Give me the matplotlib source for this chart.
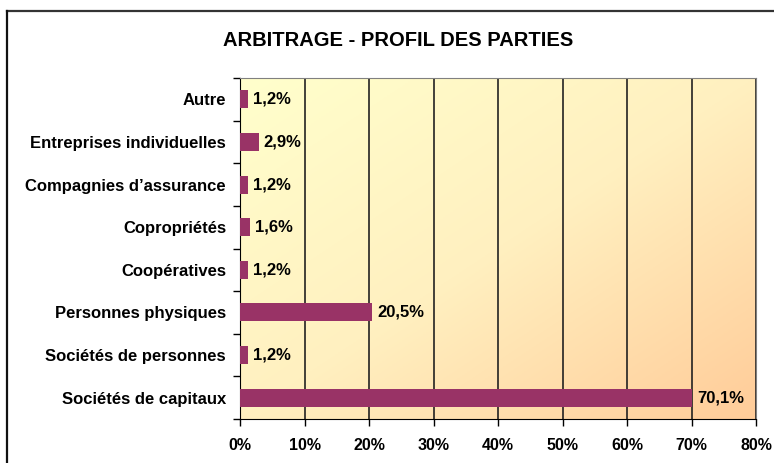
import matplotlib.pyplot as plt
import matplotlib.ticker as mticker
from matplotlib.colors import LinearSegmentedColormap
import numpy as np

plt.rcParams['font.family'] = ['Liberation Sans', 'DejaVu Sans']
plt.rcParams['font.weight'] = 'bold'

# data, bottom to top
categories = ['Sociétés de capitaux', 'Sociétés de personnes', 'Personnes physiques',
              'Coopératives', 'Copropriétés', 'Compagnies d’assurance',
              'Entreprises individuelles', 'Autre']
values = [70.1, 1.2, 20.5, 1.2, 1.6, 1.2, 2.9, 1.2]
x_ticks = [0, 10, 20, 30, 40, 50, 60, 70, 80]

W, H = 774, 463
fig = plt.figure(figsize=(W / 100, H / 100), dpi=100)
ax = fig.add_axes([240 / W, 1 - 419 / H, (756 - 240) / W, (419 - 78) / H])

# frame around the chart (runs off the right and bottom edges)
fig.add_artist(plt.Line2D([7 / W, 1.0], [1 - 10.5 / H, 1 - 10.5 / H], color='#333333', lw=1.6,
                          transform=fig.transFigure))
fig.add_artist(plt.Line2D([7 / W, 7 / W], [1 - 10.5 / H, 0.0], color='#111111', lw=1.6,
                          transform=fig.transFigure))

fig.text(398 / W, 1 - 40 / H, 'ARBITRAGE - PROFIL DES PARTIES', ha='center', va='center',
         fontsize=14.5, fontweight='bold')

# diagonal gradient background, light yellow top-left to peach bottom-right
cmap = LinearSegmentedColormap.from_list('bg', ['#FFFFCC', '#FFF0C0', '#FFCC99'])
gx, gy = np.meshgrid(np.linspace(0, 1, 200), np.linspace(0, 1, 200))
grad = (gx + gy) / 2
ax.imshow(grad, cmap=cmap, extent=[0, 80, -0.5, len(categories) - 0.5], aspect='auto',
          origin='upper', zorder=0)

y = np.arange(len(categories))
ax.barh(y, values, height=0.42, color='#993366', zorder=3)
for yi, v in zip(y, values):
    ax.text(v + 0.8, yi, f'{v:.1f}%'.replace('.', ','), va='center', ha='left',
            fontsize=12, fontweight='bold', zorder=4)

ax.set_xlim(0, 80)
ax.set_ylim(-0.5, len(categories) - 0.5)
ax.set_xticks(x_ticks)
ax.xaxis.set_major_formatter(mticker.FuncFormatter(lambda v, p: f'{int(v)}%'))
ax.set_yticks(y)
ax.set_yticklabels(categories)
ax.set_yticks(np.arange(-0.5, len(categories)), minor=True)
ax.tick_params(axis='y', which='major', length=0, pad=10, labelsize=12)
ax.tick_params(axis='y', which='minor', length=5, width=1, direction='out')
ax.tick_params(axis='x', length=5, width=1, direction='out', pad=9, labelsize=11.5)
for lbl in ax.get_xticklabels() + ax.get_yticklabels():
    lbl.set_fontweight('bold')

ax.grid(axis='x', color='#222222', lw=1.2, zorder=1)
ax.set_axisbelow(True)
for side in ['top', 'right']:
    ax.spines[side].set_color('#808080')
for side in ['left', 'bottom']:
    ax.spines[side].set_color('#000000')

fig.savefig('out.png', dpi=100)
